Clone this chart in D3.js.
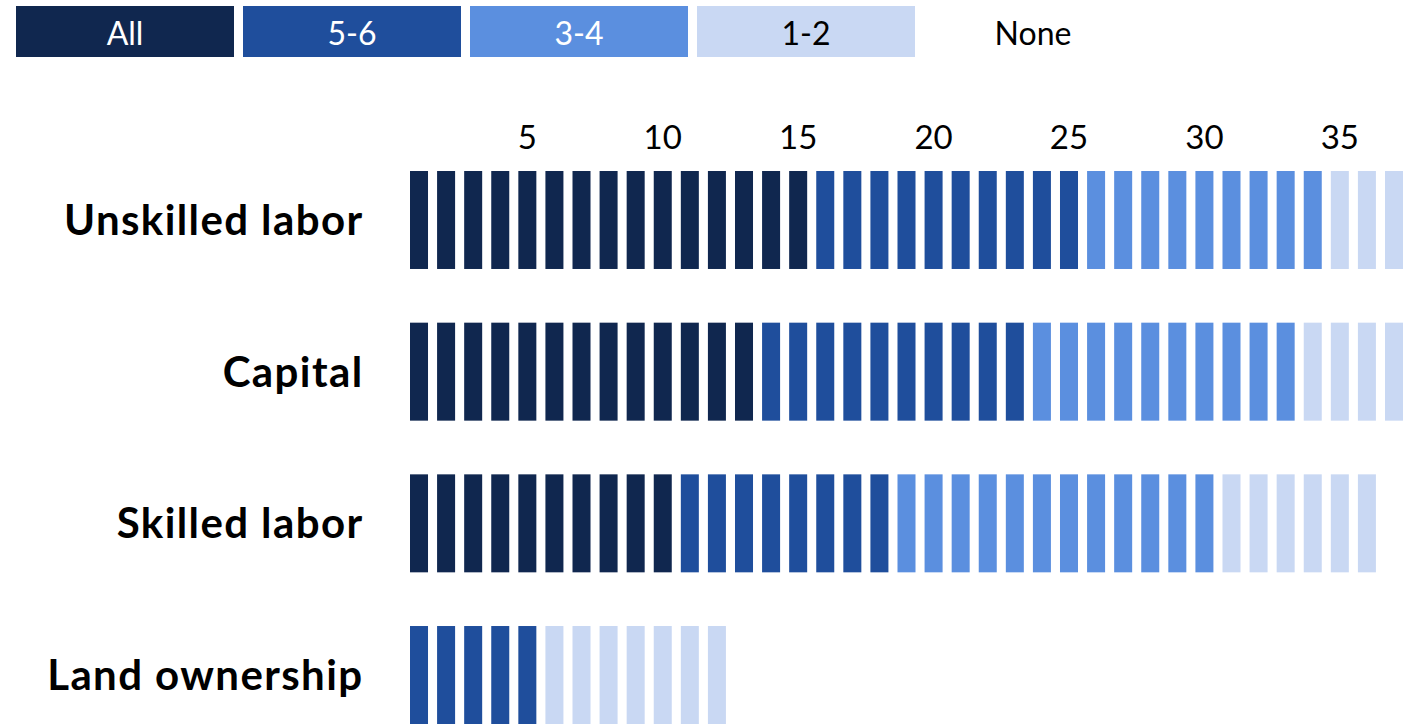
<!DOCTYPE html>
<html>
<head>
<meta charset="utf-8">
<script src="https://cdn.jsdelivr.net/npm/d3@7"></script>
<style>
  html, body { margin: 0; padding: 0; background: #fff; overflow: hidden; }
  svg { display: block; }
</style>
</head>
<body>
<svg id="chart" width="1415" height="724"></svg>
<script>
// ---- Data ----
const rows = ["Unskilled labor", "Capital", "Skilled labor", "Land ownership"];
const levels = ["All", "5-6", "3-4", "1-2", "None"];
const countAll = [15, 13, 10, 0];
const count56  = [10, 10, 8, 5];
const count34  = [9, 10, 12, 0];
const count12  = [3, 4, 6, 7];
const tickValues = [5, 10, 15, 20, 25, 30, 35];
const maxUnits = 37;

// ---- Styles ----
const colors = { "All": "#10274f", "5-6": "#1f4e9c", "3-4": "#5b8fdf", "1-2": "#c9d8f3", "None": "#ffffff" };
const textColors = { "All": "#ffffff", "5-6": "#ffffff", "3-4": "#ffffff", "1-2": "#000000", "None": "#000000" };
const FONT = "Lato, 'Open Sans', sans-serif";

const svg = d3.select("#chart");

// build unit list
const units = [];
rows.forEach((r, ri) => {
  const seq = [];
  const counts = [countAll[ri], count56[ri], count34[ri], count12[ri]];
  ["All", "5-6", "3-4", "1-2"].forEach((lv, li) => {
    for (let k = 0; k < counts[li]; k++) seq.push(lv);
  });
  seq.forEach((lv, i) => units.push({ row: r, idx: i + 1, level: lv }));
});

// scales
const x = d3.scaleBand()
  .domain(d3.range(1, maxUnits + 1))
  .range([410, 1403])
  .paddingInner(0.335)
  .paddingOuter(0);

const y = d3.scaleBand()
  .domain(rows)
  .range([171, 724])
  .paddingInner(0.354)
  .paddingOuter(0);

const color = d3.scaleOrdinal().domain(levels).range(levels.map(l => colors[l]));

// legend
const legendX = d3.scaleBand().domain(levels).range([16, 16 + 5 * 227 - 9]).paddingInner(9 / 227);
const lg = svg.append("g").attr("class", "legend");
const li = lg.selectAll("g").data(levels).enter().append("g")
  .attr("transform", d => `translate(${legendX(d)},6)`);
li.append("rect")
  .attr("width", legendX.bandwidth())
  .attr("height", 51)
  .attr("fill", d => color(d));
li.append("text")
  .attr("x", legendX.bandwidth() / 2)
  .attr("y", 39)
  .attr("text-anchor", "middle")
  .attr("font-family", FONT)
  .attr("font-size", 32)
  .attr("fill", d => textColors[d])
  .text(d => d);

// top axis tick labels
svg.append("g").selectAll("text").data(tickValues).enter().append("text")
  .attr("x", d => x(d) + x.bandwidth() / 2)
  .attr("y", 149)
  .attr("text-anchor", "middle")
  .attr("font-family", FONT)
  .attr("font-size", 33)
  .attr("fill", "#000")
  .text(d => d);

// row labels
svg.append("g").selectAll("text").data(rows).enter().append("text")
  .attr("x", 363.5)
  .attr("y", d => y(d) + y.bandwidth() / 2 + 15)
  .attr("text-anchor", "end")
  .attr("font-family", FONT)
  .attr("font-weight", "bold")
  .attr("font-size", 42)
  .attr("letter-spacing", 1.4)
  .attr("fill", "#000")
  .text(d => d);

// unit bars
svg.append("g").selectAll("rect").data(units).enter().append("rect")
  .attr("x", d => x(d.idx))
  .attr("y", d => y(d.row))
  .attr("width", x.bandwidth())
  .attr("height", y.bandwidth())
  .attr("fill", d => color(d.level));
</script>
</body>
</html>
